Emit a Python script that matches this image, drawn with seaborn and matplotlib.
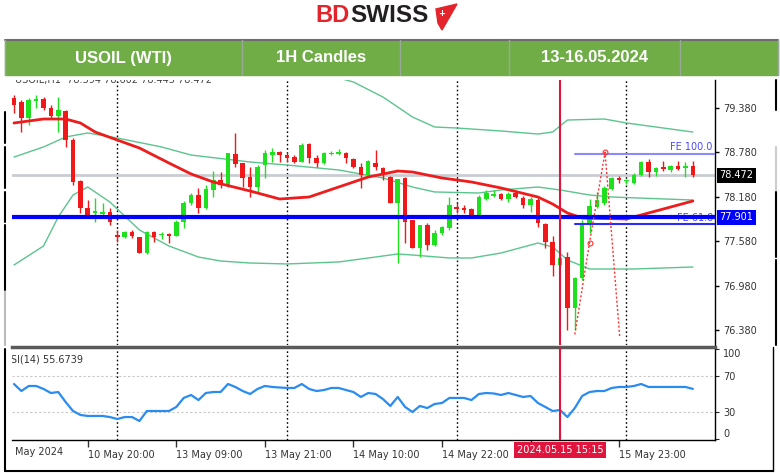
import numpy as np
import pandas as pd
import seaborn as sns
import matplotlib.pyplot as plt
import matplotlib.transforms as mtransforms
from matplotlib.patches import Rectangle, Polygon

# USOIL (WTI) 1H candles
opens = [79.52, 79.46, 79.25, 79.47, 79.50, 79.38, 79.27, 79.34, 78.95, 78.39,
         78.03, 77.96, 77.95, 77.97, 77.66, 77.64, 77.70, 77.64, 77.42, 77.70,
         77.66, 77.68, 77.65, 77.84, 78.10, 78.20, 78.03, 78.27, 78.41, 78.34,
         78.76, 78.64, 78.45, 78.31, 78.61, 78.74, 78.79, 78.74, 78.72, 78.65,
         78.89, 78.70, 78.64, 78.76, 78.76, 78.77, 78.69, 78.58, 78.47, 78.64,
         78.57, 78.45, 78.10, 78.43, 77.87, 77.49, 77.80, 77.53, 77.69, 77.76,
         78.04, 78.03, 78.02, 77.91, 78.15, 78.19, 78.22, 78.15, 78.23, 78.16,
         78.07, 78.14, 77.81, 77.57, 77.26, 77.37, 76.68, 77.08, 77.83, 78.04,
         78.10, 78.29, 78.43, 78.39, 78.37, 78.47, 78.65, 78.51, 78.58, 78.54,
         78.60, 78.57, 78.594]
highs = [79.56, 79.49, 79.51, 79.56, 79.53, 79.42, 79.53, 79.35, 78.97, 78.41,
         78.14, 78.16, 78.10, 78.03, 77.73, 77.72, 77.73, 77.64, 77.72, 77.72,
         77.70, 77.69, 77.87, 78.12, 78.23, 78.30, 78.34, 78.53, 78.51, 78.77,
         79.04, 78.64, 78.58, 78.61, 78.81, 78.84, 78.80, 78.77, 78.74, 78.91,
         78.91, 78.74, 78.79, 78.80, 78.83, 78.79, 78.70, 78.64, 78.68, 78.81,
         78.58, 78.46, 78.42, 78.45, 77.87, 77.80, 77.83, 77.73, 77.79, 78.18,
         78.10, 78.07, 78.03, 78.20, 78.27, 78.27, 78.23, 78.25, 78.27, 78.19,
         78.18, 78.16, 77.83, 77.65, 77.37, 77.43, 77.10, 77.87, 78.15, 78.25,
         78.33, 78.45, 78.46, 78.42, 78.50, 78.66, 78.69, 78.58, 78.66, 78.61,
         78.66, 78.65, 78.66]
lows = [79.31, 79.06, 79.15, 79.38, 79.35, 79.25, 79.06, 78.85, 78.34, 77.96,
        77.91, 77.84, 77.92, 77.80, 77.57, 77.62, 77.62, 77.42, 77.41, 77.57,
        77.61, 77.56, 77.65, 77.76, 78.07, 77.96, 78.01, 78.18, 78.30, 78.31,
        78.58, 78.31, 78.18, 78.23, 78.43, 78.65, 78.65, 78.65, 78.64, 78.65,
        78.64, 78.58, 78.62, 78.74, 78.74, 78.64, 78.57, 78.30, 78.45, 78.54,
        78.41, 78.10, 77.29, 77.55, 77.49, 77.37, 77.46, 77.51, 77.66, 77.73,
        77.96, 77.96, 77.91, 77.89, 78.14, 78.18, 78.14, 78.11, 78.16, 78.03,
        77.97, 77.77, 77.49, 77.11, 77.23, 76.38, 76.38, 77.06, 77.69, 78.03,
        78.07, 78.27, 78.37, 78.35, 78.35, 78.46, 78.45, 78.46, 78.53, 78.51,
        78.54, 78.45, 78.443]
closes = [79.42, 79.25, 79.49, 79.50, 79.38, 79.27, 79.35, 78.95, 78.38, 78.03,
          77.93, 77.99, 77.97, 77.84, 77.64, 77.70, 77.65, 77.42, 77.70, 77.64,
          77.67, 77.65, 77.84, 78.10, 78.20, 78.03, 78.29, 78.41, 78.34, 78.77,
          78.62, 78.43, 78.31, 78.58, 78.77, 78.79, 78.74, 78.70, 78.65, 78.88,
          78.70, 78.64, 78.77, 78.77, 78.79, 78.70, 78.58, 78.47, 78.66, 78.58,
          78.47, 78.10, 78.42, 77.84, 77.49, 77.80, 77.53, 77.69, 77.77, 78.07,
          78.02, 78.00, 77.91, 78.18, 78.23, 78.22, 78.15, 78.22, 78.18, 78.07,
          78.15, 77.83, 77.57, 77.26, 77.35, 76.68, 77.08, 77.83, 78.05, 78.14,
          78.30, 78.43, 78.41, 78.40, 78.47, 78.65, 78.51, 78.57, 78.55, 78.60,
          78.55, 78.60, 78.472]

# RSI(14), one value per candle
rsi = [61.1, 53.3, 58.9, 58.9, 55.6, 51.1, 52.2, 41.1, 31.1, 26.7,
       25.6, 25.6, 25.6, 24.4, 22.2, 24.4, 24.4, 20.0, 31.1, 31.1,
       31.1, 31.1, 35.6, 45.6, 48.9, 43.3, 51.1, 52.2, 52.2, 61.1,
       57.8, 53.3, 50.0, 55.6, 58.9, 57.8, 57.2, 56.7, 56.7, 61.1,
       55.6, 53.3, 54.4, 56.7, 56.7, 54.4, 52.2, 46.7, 51.1, 50.0,
       44.4, 36.7, 46.7, 35.6, 30.0, 36.7, 34.4, 38.9, 40.0, 45.6,
       45.6, 45.6, 43.3, 50.0, 51.1, 50.6, 48.9, 51.1, 48.9, 46.7,
       47.8, 40.0, 35.6, 31.1, 32.2, 24.4, 34.4, 47.8, 52.2, 53.3,
       53.3, 56.7, 57.8, 57.8, 58.9, 61.1, 57.8, 57.8, 57.8, 57.8,
       57.8, 57.8, 55.6739]

# moving average (red) sampled at candle indices
ma_idx = [0, 4, 7, 9, 11, 14, 17, 21, 24, 27, 32, 36, 40, 44, 48, 52, 54,
          58, 62, 66, 71, 73, 75, 77, 83, 92]
ma_vals = [79.177, 79.231, 79.231, 79.177, 79.055, 78.947, 78.839, 78.636,
           78.488, 78.380, 78.258, 78.150, 78.177, 78.312, 78.447, 78.528,
           78.515, 78.434, 78.380, 78.299, 78.177, 78.082, 77.961, 77.893,
           77.880, 78.123]

# Bollinger bands (green)
bb_mid_idx = [0, 4, 7, 10, 14, 20, 24, 32, 37, 44, 50, 54, 57, 63, 66, 71,
              74, 78, 81, 92]
bb_mid = [78.717, 78.853, 78.988, 79.042, 78.974, 78.853, 78.744, 78.650,
          78.609, 78.542, 78.434, 78.312, 78.245, 78.231, 78.272, 78.312,
          78.272, 78.204, 78.177, 78.136]
bb_up_idx = [44, 46, 50, 54, 57, 60, 66, 71, 73, 75, 80, 83, 92]
bb_up = [79.785, 79.731, 79.528, 79.258, 79.123, 79.109, 79.069, 79.028,
         79.055, 79.217, 79.231, 79.177, 79.055]
bb_low_idx = [0, 4, 6, 8, 10, 13, 17, 21, 25, 28, 32, 37, 44, 49, 52, 54,
              59, 62, 66, 71, 73, 75, 78, 84, 92]
bb_low = [77.258, 77.515, 77.907, 78.204, 78.312, 78.109, 77.731, 77.515,
          77.366, 77.312, 77.285, 77.272, 77.299, 77.366, 77.407, 77.393,
          77.353, 77.353, 77.420, 77.555, 77.501, 77.326, 77.204, 77.204,
          77.231]

# Fibonacci expansion drawing
fib_idx = [76.0, 78.0, 80.1, 82.1]
fib_price = [76.32, 77.56, 78.78, 76.27]
fe_start = 76
fe_levels = [("FE 100.0", 78.76), ("FE 61.8", 77.81)]

separators = [14, 37, 60, 83]
tick_idx = [10, 22, 34, 46, 58, 70, 82]
tick_labels = ["10 May 20:00", "13 May 09:00", "13 May 21:00", "14 May 10:00",
               "14 May 22:00", "", "15 May 23:00"]
price_ticks = [79.38, 78.78, 78.18, 77.58, 76.98, 76.38]
rsi_ticks = [100, 70, 30, 0]
last_price = 78.472
support = 77.901
event_idx = 74
event_label = "2024.05.15 15:15"

BULL = "#1fe01f"
BEAR = "#f01818"

sns.set_style("white")
plt.rcParams["font.family"] = ["DejaVu Sans"]

W, H = 780, 473
fig = plt.figure(figsize=(W / 100, H / 100), dpi=100)


def box(x0, y0, x1, y1):
    return [x0 / W, 1 - y1 / H, (x1 - x0) / W, (y1 - y0) / H]


# background layer: logo, banner, window edges
bg = fig.add_axes([0, 0, 1, 1])
bg.set_xlim(0, W)
bg.set_ylim(H, 0)
bg.axis("off")
bg.text(350, 15, "BD", color="#e3242b", fontsize=17, fontweight="bold",
        family="Liberation Sans", ha="right", va="center")
bg.text(350, 15, "SWISS", color="#231f20", fontsize=17.5, fontweight="bold",
        family="Liberation Sans", ha="left", va="center")
bg.add_patch(Polygon([(436, 9), (457, 4), (442, 30), (438, 23)], color="#e3242b"))
bg.text(442, 14, "+", color="white", fontsize=6, fontweight="bold", ha="center", va="center")

bg.add_patch(Rectangle((5, 40), 773, 35, color="#70ad47"))
bg.plot([5, 778], [40.5, 40.5], color="#6d6d6d", lw=1.5)
for xd in [5, 242, 400, 509, 680, 778]:
    bg.plot([xd, xd], [40, 75], color="#9aa89a", lw=1)
for txt, xc in [("USOIL (WTI)", 123), ("1H Candles", 321), ("13-16.05.2024", 594)]:
    bg.text(xc, 58, txt, color="white", fontsize=12, fontweight="bold",
            family="Liberation Sans", ha="center", va="center")

for y0, y1, col in [(112, 143, "k"), (147, 188, "k"), (192, 222, "k"), (225, 290, "k"),
                    (292, 345, "#bbbbbb"), (349, 471, "k")]:
    bg.plot([5, 5], [y0, y1], color=col, lw=1.5)
for y0, y1, col in [(80, 110, "k"), (147, 190, "#cccccc"), (192, 257, "k"), (260, 345, "k")]:
    bg.plot([776, 776], [y0, y1], color=col, lw=1.5)
bg.plot([5, 773], [471, 471], color="k", lw=1.5)
bg.plot([773, 773], [347, 471], color="k", lw=1)

# main price panel
ax = fig.add_axes(box(12, 80, 715, 345))
ax.set_xlim(-0.27, 95.0)
ax.set_ylim(76.177, 79.758)

for s in separators:
    ax.axvline(s, color="k", lw=1, ls=(0, (1.2, 1.8)), zorder=1)
ax.axhline(last_price, color="#c9cdd3", lw=2, zorder=1.5)

for idx, vals in [(bb_mid_idx, bb_mid), (bb_up_idx, bb_up), (bb_low_idx, bb_low)]:
    sns.lineplot(x=idx, y=vals, ax=ax, color="#5cc48e", lw=1, estimator=None,
                 sort=False, zorder=2)

df = pd.DataFrame({"o": opens, "h": highs, "l": lows, "c": closes})
df["i"] = np.arange(len(df))
colors = np.where(df.c >= df.o, BULL, BEAR)
ax.vlines(df.i, df.l, df.h, colors=colors, lw=1, zorder=3)
body_lo = np.minimum(df.o, df.c)
body_h = np.maximum((df.c - df.o).abs(), 0.014)
ax.bar(df.i, body_h, bottom=body_lo, width=0.62, color=colors, lw=0, zorder=4)

sns.lineplot(x=ma_idx, y=ma_vals, ax=ax, color="#ee1c1c", lw=2, estimator=None,
             sort=False, zorder=5)

ax.axhline(support, color="#0000ff", lw=3, zorder=6)
for name, lvl in fe_levels:
    col = "#8a8aff" if name == "FE 100.0" else "#2b2bff"
    ax.plot([fe_start, 95.0], [lvl, lvl], color=col, lw=1.5, zorder=6)
    ax.text(94.7, lvl + 0.02, name, color="#4a4aff", fontsize=7, ha="right",
            va="bottom", zorder=5.5)

ax.plot(fib_idx, fib_price, color="#ff3030", lw=1, ls=(0, (1.5, 1.5)), zorder=7)
ax.plot(fib_idx[1:3], fib_price[1:3], "o", ms=3.5, mfc="none", mec="#ff3030",
        mew=0.8, zorder=7)

ax.axvline(event_idx, color="#e0143c", lw=1.5, zorder=8)

ax.text(0.004, 1.0, "USOIL,H1  78.594 78.602 78.443 78.472", transform=ax.transAxes,
        fontsize=7, color="#444444", va="center", clip_on=True)

ax.set_xticks([])
ax.yaxis.tick_right()
ax.set_yticks(price_ticks)
ax.set_yticklabels([f"{p:.3f}" for p in price_ticks])
ax.tick_params(axis="y", right=True, length=3, width=1, pad=3, labelsize=7,
               labelcolor="#333333", color="k")
for side in ["left", "top", "bottom"]:
    ax.spines[side].set_visible(False)
ax.spines["right"].set_color("k")
ax.spines["right"].set_linewidth(1)
ax.set_xlabel("")
ax.set_ylabel("")

yx = mtransforms.blended_transform_factory(ax.transAxes, ax.transData)
ax.text(1.006, last_price, f"{last_price:.3f}", transform=yx, color="white",
        fontsize=7, va="center", ha="left", clip_on=False, zorder=10,
        bbox=dict(fc="black", ec="none", pad=1.8))
ax.text(1.006, support, f"{support:.3f}", transform=yx, color="white",
        fontsize=7, va="center", ha="left", clip_on=False, zorder=10,
        bbox=dict(fc="#0000ff", ec="none", pad=1.8))

# RSI panel
ax2 = fig.add_axes(box(12, 347, 715, 440))
ax2.set_xlim(-0.27, 95.0)
ax2.set_ylim(-1.1, 102.2)
for lvl in [70, 30]:
    ax2.axhline(lvl, color="#c8c8c8", lw=0.8, ls=(0, (2, 2)), zorder=1)
for s in separators:
    ax2.axvline(s, color="k", lw=1, ls=(0, (1.2, 1.8)), zorder=1)
sns.lineplot(x=np.arange(len(rsi)), y=rsi, ax=ax2, color="#2a8cf0", lw=1.6,
             estimator=None, zorder=3)
ax2.axvline(event_idx, color="#e0143c", lw=1.5, zorder=4)
ax2.text(-0.012, 0.87, f"RSI(14) {rsi[-1]:.4f}", transform=ax2.transAxes,
         fontsize=7, color="#333333", va="center", clip_on=True)

ax2.yaxis.tick_right()
ax2.set_yticks(rsi_ticks)
ax2.set_yticklabels([str(v) for v in rsi_ticks])
for lab, v in zip(ax2.get_yticklabels(), rsi_ticks):
    if v == 100:
        lab.set_verticalalignment("top")
    elif v == 0:
        lab.set_verticalalignment("bottom")
ax2.tick_params(axis="y", right=True, length=3, pad=3, labelsize=7,
                labelcolor="#333333")
ax2.set_xticks(tick_idx)
ax2.set_xticklabels(tick_labels, ha="left")
ax2.tick_params(axis="x", bottom=True, length=5, width=1, pad=2, labelsize=7,
                labelcolor="#333333", color="#333333")
ax2.set_xlabel("")
ax2.set_ylabel("")
ax2.spines["left"].set_visible(False)
ax2.spines["top"].set_color("#5a5a5a")
ax2.spines["top"].set_linewidth(2.5)
for side in ["bottom", "right"]:
    ax2.spines[side].set_color("k")
    ax2.spines[side].set_linewidth(1)

ax2.text(0.004, -0.075, "May 2024", transform=ax2.transAxes, fontsize=7,
         color="#333333", va="top", ha="left")
xy = mtransforms.blended_transform_factory(ax2.transData, ax2.transAxes)
ax2.text(event_idx, -0.11, event_label, transform=xy, color="white", fontsize=7,
         ha="center", va="center", clip_on=False, zorder=10,
         bbox=dict(fc="#e0143c", ec="none", pad=2.2))

fig.savefig("out.png", dpi=100)
